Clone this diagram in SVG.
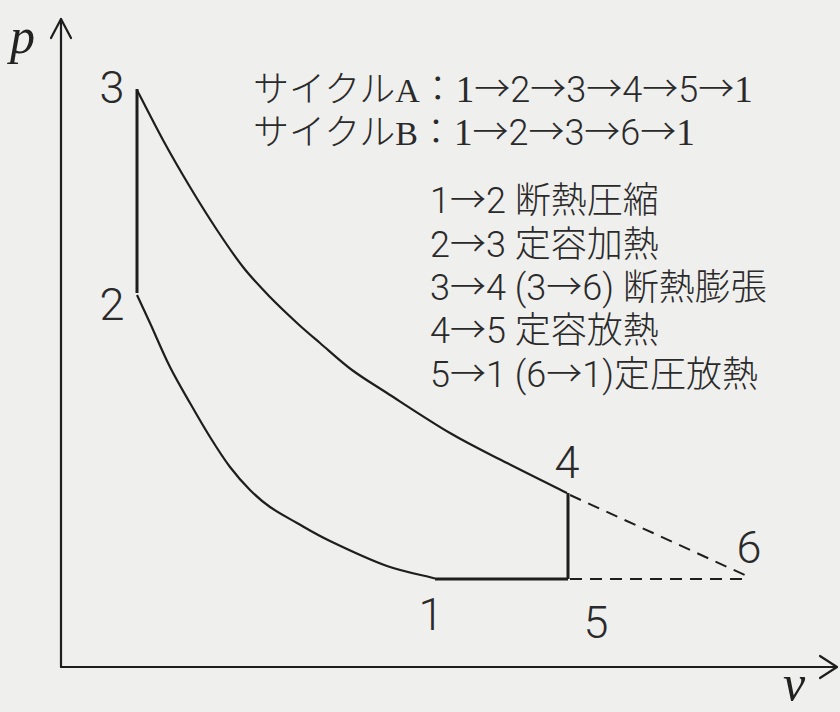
<svg xmlns="http://www.w3.org/2000/svg" width="840" height="712" viewBox="0 0 840 712">
<style>
.bg{fill:#efefed}
.ax{stroke:#1e1e1e;stroke-width:2.2;fill:none;stroke-linecap:round;stroke-linejoin:round}
.cv{stroke:#1e1e1e;stroke-width:2.2;fill:none;stroke-linejoin:round}
.thk{stroke:#1e1e1e;stroke-width:3;fill:none}
.dash{stroke:#1e1e1e;stroke-width:2;fill:none;stroke-dasharray:12 8}
.var{font-family:"Liberation Serif",serif;font-style:italic;font-size:50px;fill:#222}
.num{font-family:Roboto,"Noto Sans CJK JP",sans-serif;font-weight:300;font-size:45px;fill:#2a2a2a;text-anchor:middle}
.txt{font-family:Roboto,"Noto Sans CJK JP",sans-serif;font-weight:300;font-size:36px;fill:#2a2a2a}
.ser{font-family:"Liberation Serif","Noto Sans CJK JP",serif;font-weight:400;font-size:34px}
.ser1{font-family:"Liberation Serif","Noto Sans CJK JP",serif;font-weight:400;font-size:37px}
</style>
<rect class="bg" x="0" y="0" width="840" height="712"/>
<g id="axes">
<line class="ax" x1="61" y1="667" x2="61" y2="19"/>
<polyline class="ax" points="51,38 61,19 71,38"/>
<line class="ax" x1="61" y1="667" x2="837" y2="667"/>
<polyline class="ax" points="820,656 837,667 820,678"/>
<text class="var" x="10" y="53">p</text>
<text class="var" x="783" y="700">v</text>
</g>
<g id="connectors">
<path id="c23" class="thk" d="M137,89 L137,293"/>
<path id="c34" class="cv" d="M137,90 C141.3,98.3 154.2,123.8 163,140 C171.8,156.2 181,172 190,187 C199,202 208.2,216.7 217,230 C225.8,243.3 234.2,255.8 243,267 C251.8,278.2 261,287.7 270,297 C279,306.3 288.7,315.3 297,323 C305.3,330.7 310.8,335.2 320,343 C329.2,350.8 340.8,361.7 352,370 C363.2,378.3 370.7,382.5 387,393 C403.3,403.5 430,421.3 450,433 C470,444.7 487.5,453 507,463 C526.5,473 557,488 567,493"/>
<path id="c21" class="cv" d="M137,295 C139.2,299.7 144.5,311 150,323 C155.5,335 163.3,353.7 170,367 C176.7,380.3 183.3,391.3 190,403 C196.7,414.7 203.3,426.3 210,437 C216.7,447.7 223.3,458.2 230,467 C236.7,475.8 243.3,483.3 250,490 C256.7,496.7 262.2,501.5 270,507 C277.8,512.5 287,517.3 297,523 C307,528.7 315,533.8 330,541 C345,548.2 369.5,559.8 387,566 C404.5,572.2 427,576 435,578.5"/>
<path id="c45" class="thk" d="M568,493 L568,579"/>
<path id="c51" class="thk" d="M435,579 L568,579"/>
<path id="c36" class="dash" d="M570,495 L747,576"/>
<path id="c61" class="dash" d="M570,579 L747,579"/>
</g>
<g id="node1"><text class="num" x="431" y="630">1</text></g>
<g id="node2"><text class="num" x="112" y="320">2</text></g>
<g id="node3"><text class="num" x="112" y="103">3</text></g>
<g id="node4"><text class="num" x="567" y="478">4</text></g>
<g id="node5"><text class="num" x="596" y="638">5</text></g>
<g id="node6"><text class="num" x="749" y="563">6</text></g>
<g id="legend">
<text class="txt" x="253" y="102">サイクル<tspan class="ser">A</tspan>：<tspan class="ser1">1</tspan>→2→3→4→5→<tspan class="ser1">1</tspan></text>
<text class="txt" x="253" y="145">サイクル<tspan class="ser">B</tspan>：<tspan class="ser1">1</tspan>→2→3→6→<tspan class="ser1">1</tspan></text>
<text class="txt" x="430" y="213">1→2 断熱圧縮</text>
<text class="txt" x="430" y="257">2→3 定容加熱</text>
<text class="txt" x="430" y="300">3→4 (3→6) 断熱膨張</text>
<text class="txt" x="430" y="343">4→5 定容放熱</text>
<text class="txt" x="430" y="387">5→1 (6→1)定圧放熱</text>
</g>
</svg>
